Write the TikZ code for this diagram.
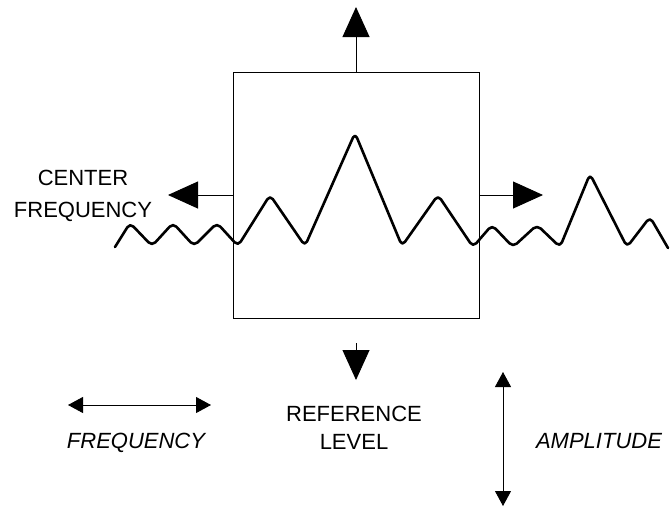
\documentclass[tikz,border=0pt]{standalone}
\usepackage{fontspec}
\newfontfamily\plotfont{Liberation Sans}
\usepackage{tikz}
\usetikzlibrary{arrows.meta}
\usetikzlibrary{positioning}
\tikzstyle{screenbox} = [draw=black, line width=1pt, minimum width=246pt, minimum height=246pt, inner sep=0pt]
\tikzstyle{trace} = [line width=2.6pt, rounded corners=5pt, line join=round, line cap=round]
\tikzstyle{bigarrow} = [line width=0.9pt,-{Triangle[length=30pt,width=27pt]}]
\tikzstyle{smallarrow} = [line width=0.9pt,{Triangle[length=15pt,width=16pt]}-{Triangle[length=15pt,width=16pt]}]
\tikzstyle{plotlabel} = [font={\plotfont\fontsize{22}{26}\selectfont}, inner sep=0pt, text height=16pt, text depth=0pt]
\tikzstyle{axislabel} = [plotlabel, font={\plotfont\itshape\fontsize{22}{26}\selectfont}]

\begin{document}
\begin{tikzpicture}[x=1pt, y=-1pt, node distance=32pt]
                        \useasboundingbox (0,0) rectangle (671,515);
                        \node (scope) [screenbox] at (356,195) {};
                        % signal trace
                        \draw[trace] (115,247) -- (130,223) -- (152,246) -- (173,223) -- (194,246)
                            -- (217,223) -- (238,246) -- (270,195) -- (305,246) -- (355,133)
                            -- (402,246) -- (438,195) -- (473,247) -- (492,225) -- (513,247)
                            -- (537,225) -- (560,247) -- (590,174) -- (627,247) -- (650,217) -- (668,248);
                        \coordinate (uptip) at (356,7);
                        \coordinate (lefttip) at (168,195);
                        \coordinate (righttip) at (543,195);
                        \coordinate (downtail) at (356,343);
                        \coordinate (downtip) at (356,380);
                        \draw[bigarrow] (scope.north) -- (uptip);
                        \draw[bigarrow] (scope.west) -- (lefttip);
                        \draw[bigarrow] (scope.east) -- (righttip);
                        \draw[bigarrow] (downtail) -- (downtip);
                        \node (ctr) [plotlabel] at (83,177) {CENTER};
                        \node (ctrfreq) [plotlabel, below of=ctr] {FREQUENCY};
                        \node (ref) [plotlabel] at (354,413) {REFERENCE};
                        \node (lvl) [plotlabel, below of=ref, node distance=28pt] {LEVEL};
                        % axes
                        \coordinate (freqleft) at (68,405);
                        \coordinate (freqright) at (211,405);
                        \coordinate (amplup) at (503,372);
                        \coordinate (ampldown) at (503,506);
                        \draw[smallarrow] (freqleft) -- (freqright);
                        \draw[smallarrow] (amplup) -- (ampldown);
                        \node (freq) [axislabel] at (136,440) {FREQUENCY};
                        \node (ampl) [axislabel] at (599,440) {AMPLITUDE};
                    \end{tikzpicture}
\end{document}
